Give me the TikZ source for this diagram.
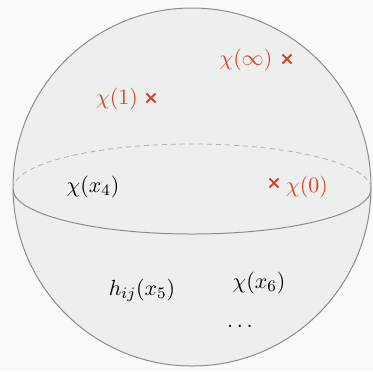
\documentclass[tikz,border=0pt]{standalone}
\usetikzlibrary{shapes.misc}
\definecolor{bgc}{RGB}{249,249,249}
\definecolor{spherefill}{RGB}{237,239,238}
\definecolor{rimc}{RGB}{140,140,140}
\definecolor{redc}{RGB}{218,68,36}
\tikzset{
  lbl/.style={inner sep=0pt, font=\fontsize{11.2}{13}\selectfont},
  redlbl/.style={lbl, text=redc},
  xmark/.style={cross out, draw=redc, line width=0.95pt, minimum size=3.6pt, inner sep=0pt},
}
\begin{document}
\begin{tikzpicture}[x=0.5pt,y=-0.5pt]
\fill[bgc] (0,0) rectangle (373,371);
\useasboundingbox (0,0) rectangle (373,371);
% sphere
\coordinate (C) at (192,187);
\filldraw[fill=spherefill, draw=rimc, line width=0.5pt] (C) circle[radius=179];
% equator (y axis points down: angles 0..180 give the lower half)
\draw[rimc, line width=0.5pt] (13,189) arc[start angle=180, end angle=0, x radius=179, y radius=45];
\draw[rimc!70, line width=0.4pt, dash pattern=on 2.5pt off 2pt] (13,189) arc[start angle=180, end angle=360, x radius=179, y radius=45];
% red points
\node[redlbl] (cinf) at (246,60) {$\chi(\infty)$};
\node[xmark] (xinf) at (287,59) {};
\node[redlbl] (c1) at (117,99) {$\chi(1)$};
\node[xmark] (x1) at (151,98) {};
\node[xmark] (x0) at (274,183) {};
\node[redlbl] (c0) at (307,187) {$\chi(0)$};
% black labels
\node[lbl] (c4) at (93,187) {$\chi(x_4)$};
\node[lbl] (h5) at (142,290) {$h_{ij}(x_5)$};
\node[lbl] (c6) at (259,283) {$\chi(x_6)$};
\node[lbl] (dots) at (240,326) {$\dots$};
\end{tikzpicture}
\end{document}
